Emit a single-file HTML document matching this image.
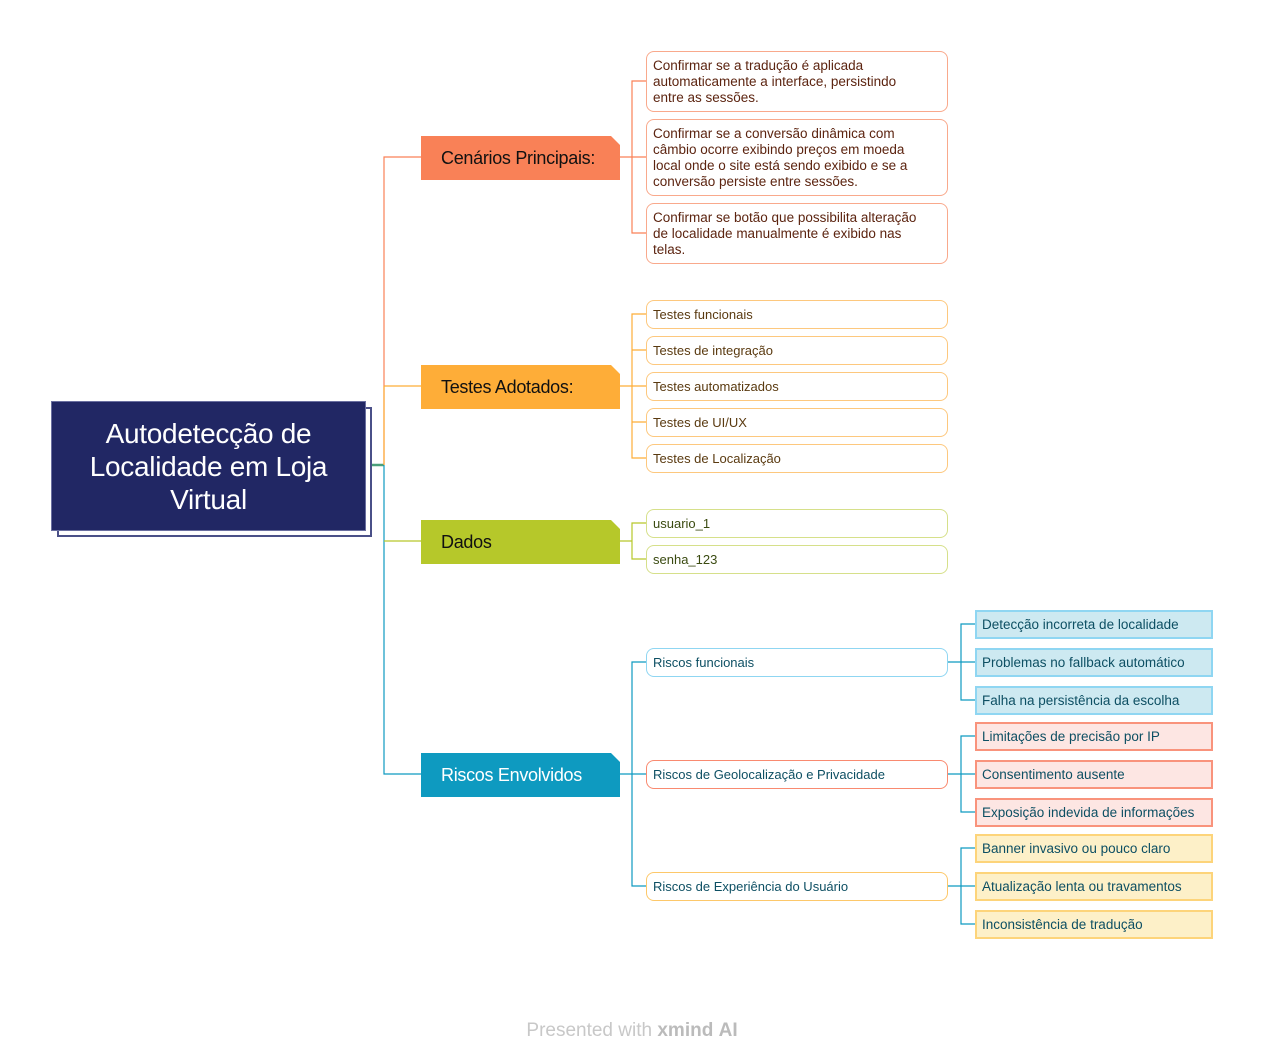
<!DOCTYPE html>
<html><head><meta charset="utf-8"><style>
body{margin:0;width:1264px;height:1060px;background:#fff;position:relative;font-family:"Liberation Sans",sans-serif;overflow:hidden}
.a{position:absolute;box-sizing:border-box}
.root{left:51px;top:401px;width:315px;height:130px;background:#212764;color:#fff;font-size:28px;line-height:33px;text-align:center;display:flex;align-items:center;justify-content:center;letter-spacing:-0.3px;border:1px solid #6a6fa0}
.rsh{left:57px;top:407px;width:315px;height:130px;border:2px solid #4a5088;background:#fff}
.m{left:421px;width:199px;height:44px;font-size:18px;padding-left:20px;display:flex;align-items:center;color:#111;letter-spacing:-0.3px}
.m:after{content:"";position:absolute;right:0;top:0;border-style:solid;border-width:0 9px 9px 0;border-color:transparent #fff transparent transparent}
.c{left:646px;width:302px;border:1.5px solid;border-radius:8px;font-size:13px;line-height:16px;padding:0 6px;display:flex;align-items:center}
.ct{font-size:13.5px;padding:6px 4px 0 6px;align-items:flex-start;white-space:nowrap}
.g{left:975px;width:238px;height:29px;border:2px solid;font-size:13.5px;padding-left:5px;display:flex;align-items:center;color:#0d4f63}
</style></head><body>
<svg class="a" style="left:0;top:0" width="1264" height="1060">
<g fill="none" stroke-width="1.2">
<path d="M371 465H384" stroke="#4aa07a" stroke-width="2.5"/>
<path d="M421 157H384V465" stroke="#f98157"/>
<path d="M384 386H421M384 386V465" stroke="#fead38"/>
<path d="M384 465V774H421" stroke="#0e9ac0"/>
<path d="M384 541H421" stroke="#b6c82a"/>
<path d="M620 157H632M646 81H632V233H646M632 157H646" stroke="#f98157"/>
<path d="M620 386H646M646 314H632V458H646M632 350H646M632 422H646" stroke="#fead38"/>
<path d="M620 541H632M646 523H632V559H646" stroke="#b6c82a"/>
<path d="M620 774H646M646 662H632V886H646" stroke="#0e9ac0"/>
<path d="M948 662H975M975 624H961V700H975" stroke="#0e9ac0"/>
<path d="M948 774H975M975 736H961V812H975" stroke="#0e9ac0"/>
<path d="M948 886H975M975 848H961V924H975" stroke="#0e9ac0"/>
</g></svg>
<div class="a rsh"></div>
<div class="a root">Autodetecção de<br>Localidade em Loja<br>Virtual</div>

<div class="a m" style="top:136px;background:#f98157">Cenários Principais:</div>
<div class="a m" style="top:365px;background:#fead38">Testes Adotados:</div>
<div class="a m" style="top:520px;background:#b6c82a">Dados</div>
<div class="a m" style="top:753px;background:#0e9ac0;color:#fff">Riscos Envolvidos</div>

<div class="a c ct" style="top:51px;height:61px;border-color:#f9a98c;color:#5c2410">Confirmar se a tradução é aplicada<br>automaticamente a interface, persistindo<br>entre as sessões.</div>
<div class="a c ct" style="top:119px;height:77px;border-color:#f9a98c;color:#5c2410">Confirmar se a conversão dinâmica com<br>câmbio ocorre exibindo preços em moeda<br>local onde o site está sendo exibido e se a<br>conversão persiste entre sessões.</div>
<div class="a c ct" style="top:203px;height:61px;border-color:#f9a98c;color:#5c2410">Confirmar se botão que possibilita alteração<br>de localidade manualmente é exibido nas<br>telas.</div>

<div class="a c" style="top:300px;height:29px;border-color:#fdc87e;color:#5a3a10">Testes funcionais</div>
<div class="a c" style="top:336px;height:29px;border-color:#fdc87e;color:#5a3a10">Testes de integração</div>
<div class="a c" style="top:372px;height:29px;border-color:#fdc87e;color:#5a3a10">Testes automatizados</div>
<div class="a c" style="top:408px;height:29px;border-color:#fdc87e;color:#5a3a10">Testes de UI/UX</div>
<div class="a c" style="top:444px;height:29px;border-color:#fdc87e;color:#5a3a10">Testes de Localização</div>

<div class="a c" style="top:509px;height:29px;border-color:#d6e08a;color:#3a4a10">usuario_1</div>
<div class="a c" style="top:545px;height:29px;border-color:#d6e08a;color:#3a4a10">senha_123</div>

<div class="a c" style="top:648px;height:29px;border-color:#8fd6f2;color:#0d4f63">Riscos funcionais</div>
<div class="a c" style="top:760px;height:29px;border-color:#f98a70;color:#0d4f63">Riscos de Geolocalização e Privacidade</div>
<div class="a c" style="top:872px;height:29px;border-color:#fdc86a;color:#0d4f63">Riscos de Experiência do Usuário</div>

<div class="a g" style="top:610px;background:#cde9f1;border-color:#8fd6f2">Detecção incorreta de localidade</div>
<div class="a g" style="top:648px;background:#cde9f1;border-color:#8fd6f2">Problemas no fallback automático</div>
<div class="a g" style="top:686px;background:#cde9f1;border-color:#8fd6f2">Falha na persistência da escolha</div>
<div class="a g" style="top:722px;background:#fde6e3;border-color:#f9937c">Limitações de precisão por IP</div>
<div class="a g" style="top:760px;background:#fde6e3;border-color:#f9937c">Consentimento ausente</div>
<div class="a g" style="top:798px;background:#fde6e3;border-color:#f9937c">Exposição indevida de informações</div>
<div class="a g" style="top:834px;background:#fdf0c8;border-color:#fdd47a">Banner invasivo ou pouco claro</div>
<div class="a g" style="top:872px;background:#fdf0c8;border-color:#fdd47a">Atualização lenta ou travamentos</div>
<div class="a g" style="top:910px;background:#fdf0c8;border-color:#fdd47a">Inconsistência de tradução</div>

<div class="a" style="left:0;width:1264px;top:1020px;text-align:center;font-size:19px;color:#c8c8c8">Presented with <b style="color:#bbb">xmind</b> <b style="color:#bbb">AI</b></div>
</body></html>
